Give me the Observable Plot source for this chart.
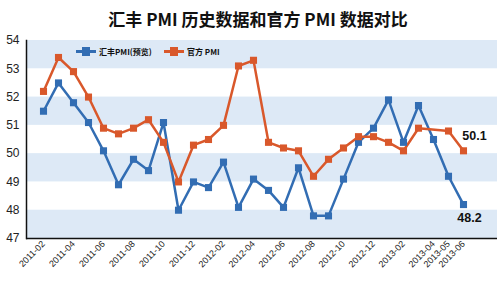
<!DOCTYPE html>
<html><head><meta charset="utf-8">
<script src="https://cdn.jsdelivr.net/npm/d3@7"></script>
<script src="https://cdn.jsdelivr.net/npm/@observablehq/plot@0.6"></script>
<style>
body{margin:0;background:#fff;font-family:"Liberation Sans",Arial,sans-serif;}
#wrap{position:relative;width:500px;height:283px;overflow:hidden}
#title{height:30px;box-sizing:border-box;padding-top:8px;line-height:22px;text-align:center;padding-left:16px;font-family:"Noto Sans CJK SC";font-weight:bold;font-size:17px;color:#111;white-space:nowrap}
.leg{position:absolute;top:45px;font-size:8px;font-weight:bold;font-family:"Noto Sans CJK SC";display:flex;align-items:center;height:12px;color:#111}
.sw{position:relative;width:20px;height:3px;margin-right:3px}
.sw i{position:absolute;left:6px;top:-3px;width:8px;height:9px}
</style></head>
<body><div id="wrap"><div id="title">汇丰 PMI 历史数据和官方 PMI 数据对比</div>
<div id="chart"></div>
<div class="leg" style="left:76px"><span class="sw" style="background:#326db3"><i style="background:#326db3"></i></span>汇丰PMI(预览)</div>
<div class="leg" style="left:164px"><span class="sw" style="background:#d9582b"><i style="background:#d9582b"></i></span>官方 PMI</div>
</div>
<script>
const months = ["2011-02","2011-03","2011-04","2011-05","2011-06","2011-07","2011-08","2011-09","2011-10","2011-11","2011-12",
  "2012-01","2012-02","2012-03","2012-04","2012-05","2012-06","2012-07","2012-08","2012-09","2012-10","2012-11","2012-12",
  "2013-01","2013-02","2013-03","2013-04","2013-05","2013-06"];
const hsbc = [51.5,52.5,51.8,51.1,50.1,48.9,49.8,49.4,51.1,48.0,49.0,48.8,49.7,48.1,49.1,48.7,48.1,49.5,47.8,47.8,49.1,50.4,50.9,51.9,50.4,51.7,50.5,49.2,48.2];
const official = [52.2,53.4,52.9,52.0,50.9,50.7,50.9,51.2,50.4,49.0,50.3,50.5,51.0,53.1,53.3,50.4,50.2,50.1,49.2,49.8,50.2,50.6,50.6,50.4,50.1,50.9,null,50.8,50.1];
const tickMonths = ["2011-02","2011-04","2011-06","2011-08","2011-10","2011-12","2012-02","2012-04","2012-06","2012-08","2012-10","2012-12","2013-02","2013-04","2013-05","2013-06"];
const yTicks = [47,48,49,50,51,52,53,54];
const bandStarts = [47,49,51,53];

const blue = "#326db3", red = "#d9582b";
const data = months.map((m,i)=>({month:m, hsbc:hsbc[i], official:official[i]}));
const offData = data.filter(d=>d.official!=null);
const last = data[data.length-1];

const chart = Plot.plot({
  width:500, height:253, marginTop:10, marginBottom:45, marginLeft:26, marginRight:3,
  style:{fontFamily:"Liberation Sans, Arial, sans-serif", color:"#222", background:"transparent"},
  x:{type:"point", domain:months, insetLeft:8, insetRight:25, padding:0, axis:null},
  y:{domain:[47,54], axis:null},
  marks:[
    Plot.rect(bandStarts,{y1:d=>d, y2:d=>d+1, fill:"#dde9f6"}),
    Plot.axisY({ticks:yTicks, tickFormat:d=>String(d), tickSize:0, tickPadding:7, fontSize:12, label:null}),
    Plot.axisX({ticks:tickMonths, tickRotate:-45, tickSize:0, tickPadding:4, fontSize:9, label:null}),
    Plot.frame({anchor:"left", stroke:"#111", strokeWidth:1.5}),
    Plot.ruleY([47],{stroke:"#111", strokeWidth:1.5}),
    Plot.line(data,{x:"month", y:"hsbc", stroke:blue, strokeWidth:2.5}),
    Plot.line(offData,{x:"month", y:"official", stroke:red, strokeWidth:2.5}),
    Plot.dot(data,{x:"month", y:"hsbc", symbol:"square", r:4, fill:blue}),
    Plot.dot(offData,{x:"month", y:"official", symbol:"square", r:4, fill:red}),
    Plot.text([last],{x:"month", y:"official", text:d=>d.official.toFixed(1), dx:11, dy:-15, fontWeight:"bold", fontSize:12.5, fill:"#111"}),
    Plot.text([last],{x:"month", y:"hsbc", text:d=>d.hsbc.toFixed(1), dx:6, dy:13, fontWeight:"bold", fontSize:12.5, fill:"#111"})
  ]
});
document.getElementById("chart").appendChild(chart);
</script>
</body></html>
